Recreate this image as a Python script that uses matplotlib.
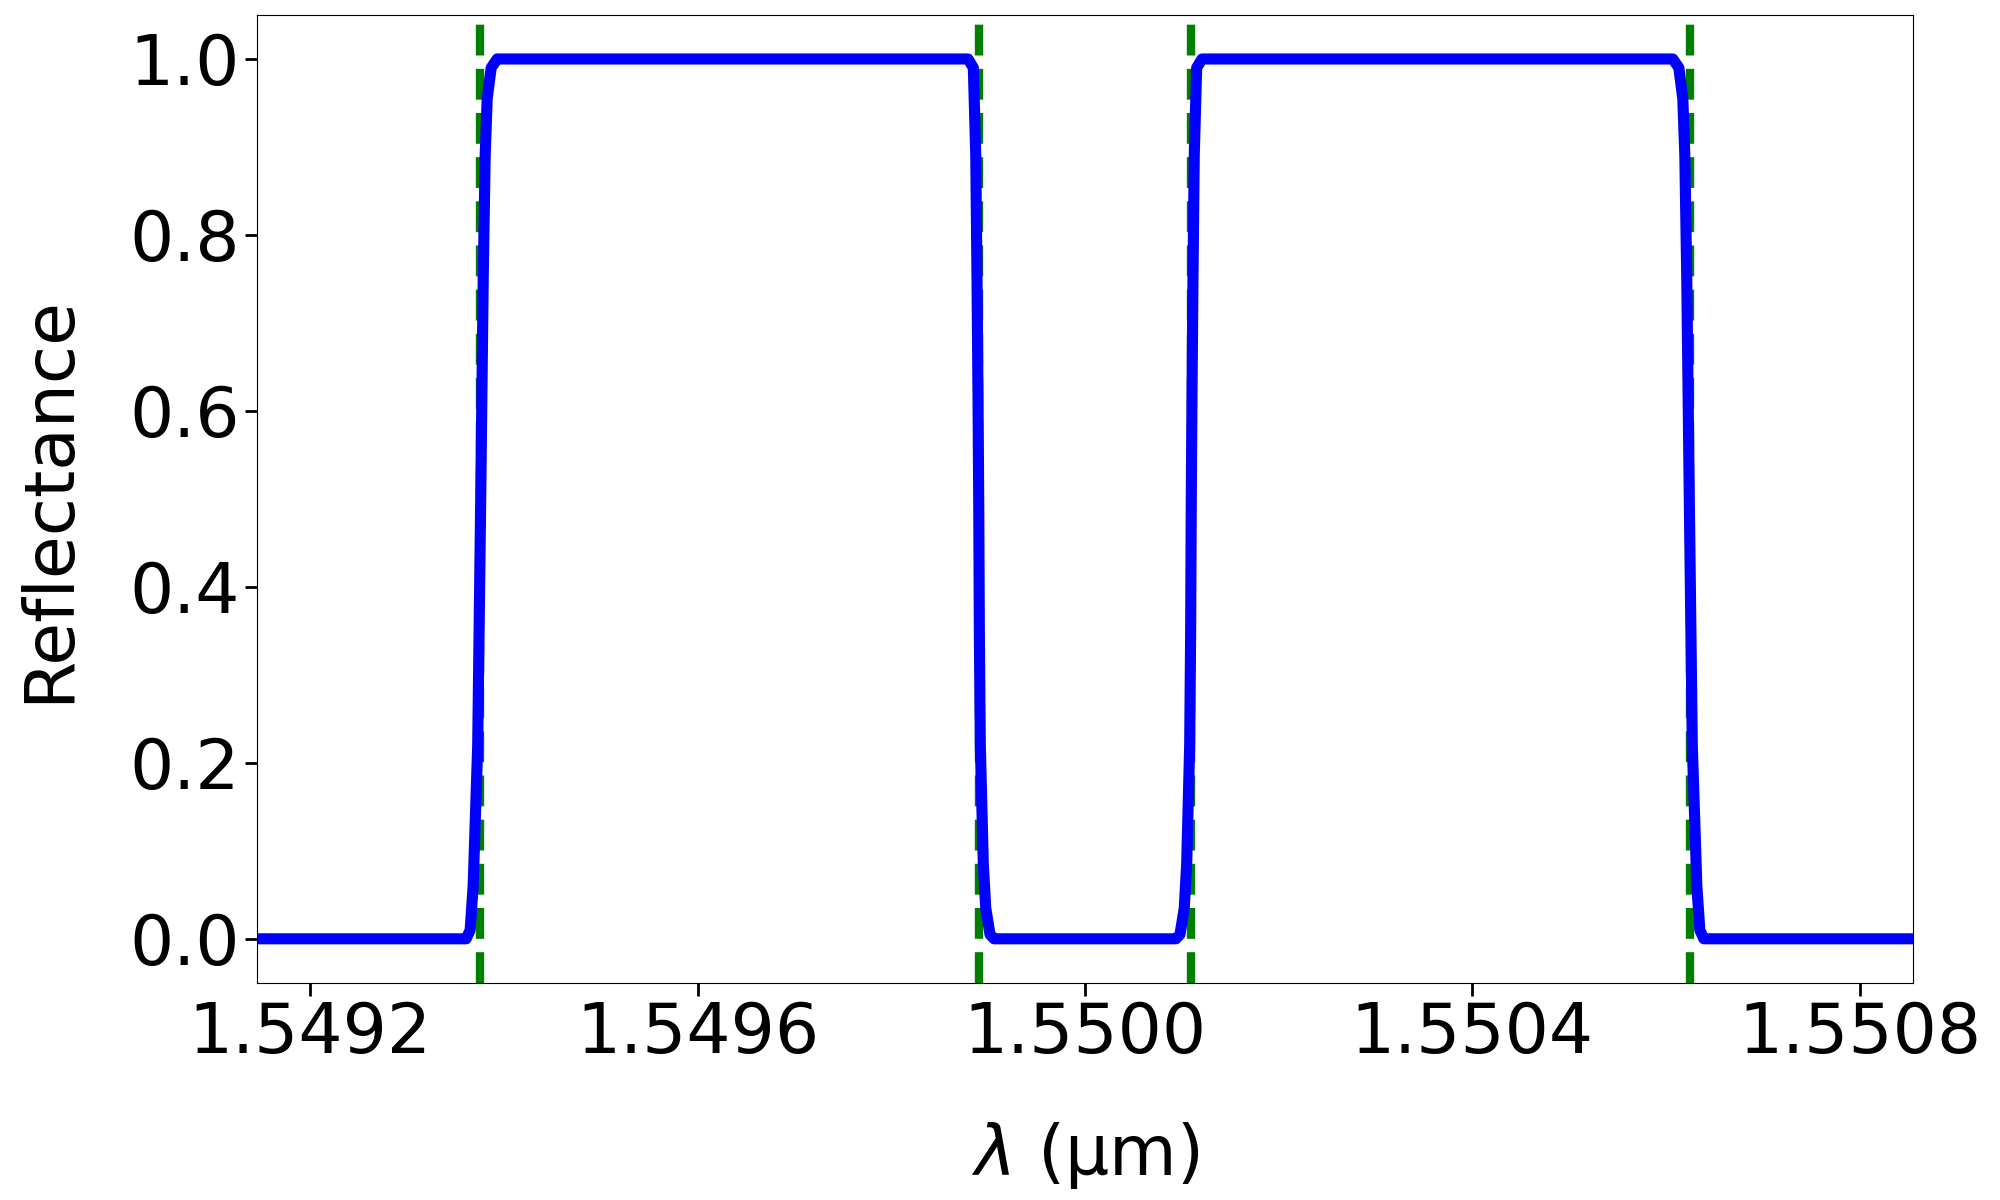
import numpy as np
import matplotlib
matplotlib.use('Agg')
import matplotlib.pyplot as plt

# wavelength samples (um): flat parts only need their ends
wavelength = [1.549145,
              1.5493610, 1.5493651, 1.5493682, 1.5493729, 1.5493760,
              1.5493786, 1.5493806, 1.5493827, 1.5493868, 1.5493930,
              1.5498792, 1.5498847, 1.5498872, 1.5498885, 1.5498895, 1.5498903,
              1.5498909, 1.5498919, 1.5498950, 1.5498975, 1.5499019, 1.5499061,
              1.5500939, 1.5500981, 1.5501025, 1.5501050, 1.5501081, 1.5501091,
              1.5501097, 1.5501105, 1.5501115, 1.5501128, 1.5501153, 1.5501208,
              1.5506070, 1.5506132, 1.5506173, 1.5506194, 1.5506214,
              1.5506240, 1.5506271, 1.5506318, 1.5506349, 1.5506390,
              1.550855]
reflectance = [0.0,
               0.0, 0.01, 0.06, 0.22, 0.50,
               0.75, 0.89, 0.955, 0.99, 1.0,
               1.0, 0.99, 0.89, 0.75, 0.62, 0.49,
               0.35, 0.22, 0.085, 0.035, 0.005, 0.0,
               0.0, 0.005, 0.035, 0.085, 0.22, 0.35,
               0.49, 0.62, 0.75, 0.89, 0.99, 1.0,
               1.0, 0.99, 0.955, 0.89, 0.75,
               0.50, 0.22, 0.06, 0.01, 0.0,
               0.0]

# band edges (dashed markers)
band_edges = [1.549375, 1.549891, 1.550109, 1.550625]

x_ticks = [1.5492, 1.5496, 1.5500, 1.5504, 1.5508]
y_ticks = [0.0, 0.2, 0.4, 0.6, 0.8, 1.0]

plt.rcParams['font.size'] = 50

fig = plt.figure(figsize=(20, 12), dpi=100)
ax = fig.add_axes([0.1285, 0.181, 0.828, 0.8065])

for edge in band_edges:
    ax.axvline(edge, color='green', linestyle='--', linewidth=6, zorder=1)

ax.plot(wavelength, reflectance, color='blue', linewidth=8, zorder=2)

ax.set_xlim(wavelength[0], wavelength[-1])
ax.set_ylim(-0.05, 1.05)
ax.set_xticks(x_ticks)
ax.set_xticklabels(['{:.4f}'.format(t) for t in x_ticks])
ax.set_yticks(y_ticks)
ax.set_yticklabels(['{:.1f}'.format(t) for t in y_ticks])
ax.tick_params(length=9, width=2)

ax.set_xlabel(r'$\lambda$ (µm)', labelpad=38)
ax.set_ylabel('Reflectance', labelpad=34)

fig.savefig('out.png', dpi=100)
